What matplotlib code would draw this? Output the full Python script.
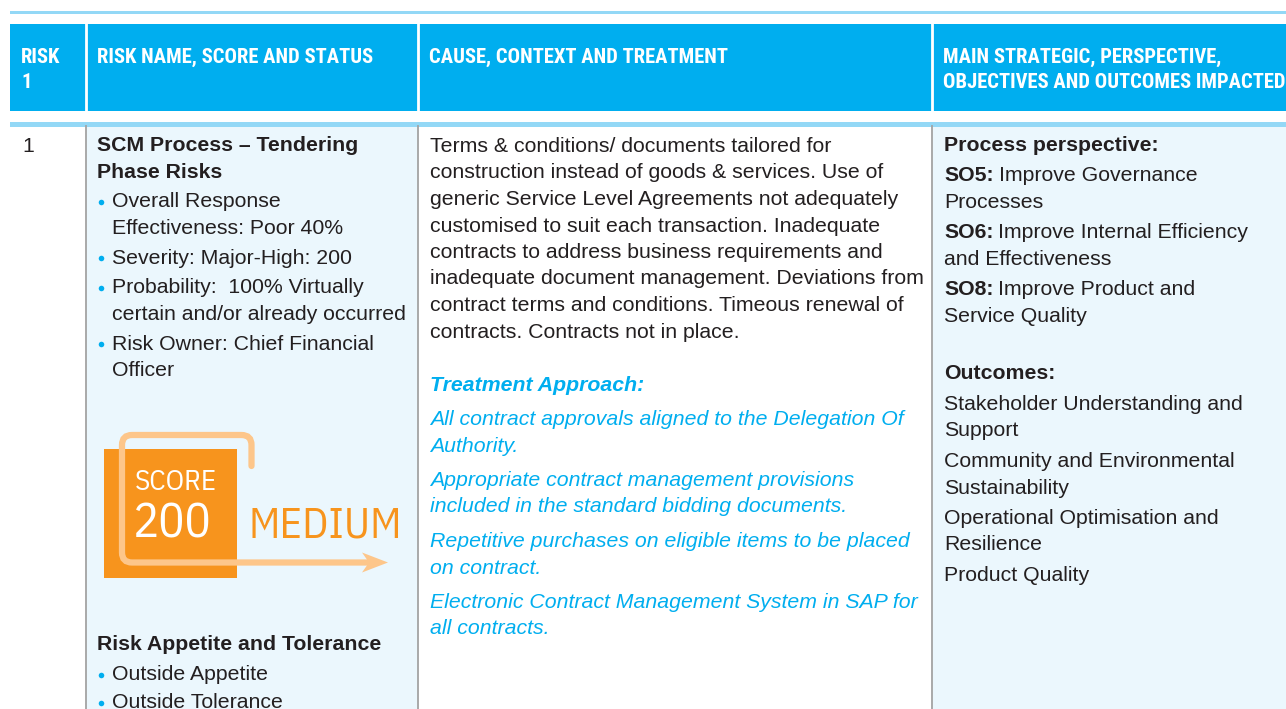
import matplotlib
matplotlib.use('Agg')
import matplotlib.pyplot as plt
from matplotlib.patches import Rectangle, Polygon, PathPatch
from matplotlib.path import Path

# colours
BLUE = '#00aeef'
LINE_BLUE = '#93d8f6'
CELL_BG = '#ebf7fd'
BORDER = '#a3a3a3'
INK = '#231f20'
ORANGE = '#f7941d'
ORANGE_LIGHT = '#fdc68a'

BODY = ['Liberation Sans', 'DejaVu Sans']
HEAD = ['Roboto Condensed', 'Barlow Condensed', 'DejaVu Sans']
LIGHT = ['IBM Plex Sans Condensed', 'Fira Sans Condensed', 'DejaVu Sans']

# ---- table content ----
header_lines = [["RISK", "1"], ["RISK NAME, SCORE AND STATUS"],
                ["CAUSE, CONTEXT AND TREATMENT"],
                ["MAIN STRATEGIC, PERSPECTIVE,", "OBJECTIVES AND OUTCOMES IMPACTED"]]
col_edges = [10, 86, 418, 932, 1286]

risk_number = "1"
risk_title = ["SCM Process \u2013 Tendering", "Phase Risks"]
risk_bullets = [["Overall Response", "Effectiveness: Poor 40%"],
                ["Severity: Major-High: 200"],
                ["Probability:  100% Virtually", "certain and/or already occurred"],
                ["Risk Owner: Chief Financial", "Officer"]]
score_label = "SCORE"
score_value = 200
score_rating = "MEDIUM"
appetite_title = "Risk Appetite and Tolerance"
appetite_bullets = ["Outside Appetite", "Outside Tolerance"]

cause_lines = ["Terms & conditions/ documents tailored for",
               "construction instead of goods & services. Use of",
               "generic Service Level Agreements not adequately",
               "customised to suit each transaction. Inadequate",
               "contracts to address business requirements and",
               "inadequate document management. Deviations from",
               "contract terms and conditions. Timeous renewal of",
               "contracts. Contracts not in place."]
treatment_title = "Treatment Approach:"
treatment_items = [["All contract approvals aligned to the Delegation Of", "Authority."],
                   ["Appropriate contract management provisions",
                    "included in the standard bidding documents."],
                   ["Repetitive purchases on eligible items to be placed", "on contract."],
                   ["Electronic Contract Management System in SAP for", "all contracts."]]

perspective_title = "Process perspective:"
objective_codes = ["SO5:", "SO6:", "SO8:"]
objective_texts = [["Improve Governance", "Processes"],
                   ["Improve Internal Efficiency", "and Effectiveness"],
                   ["Improve Product and", "Service Quality"]]
outcomes_title = "Outcomes:"
outcomes = [["Stakeholder Understanding and", "Support"],
            ["Community and Environmental", "Sustainability"],
            ["Operational Optimisation and", "Resilience"],
            ["Product Quality"]]

# ---- figure in pixel coordinates ----
W, H = 1286, 709
fig = plt.figure(figsize=(W / 100, H / 100), dpi=100)
ax = fig.add_axes([0, 0, 1, 1])
ax.set_xlim(0, W)
ax.set_ylim(H, 0)
ax.axis('off')

FS = 15.3  # body text size

# background cells
ax.add_patch(Rectangle((col_edges[1], 126), col_edges[2] - col_edges[1], H - 126, color=CELL_BG, lw=0))
ax.add_patch(Rectangle((col_edges[3], 126), col_edges[4] - col_edges[3], H - 126, color=CELL_BG, lw=0))
for x in col_edges[1:4]:
    ax.plot([x, x], [126, H], color=BORDER, lw=1.3)

# rules and header band
ax.add_patch(Rectangle((10, 10.5), W - 10, 3.5, color=LINE_BLUE, lw=0))
ax.add_patch(Rectangle((10, 122), W - 10, 4.5, color=LINE_BLUE, lw=0))
ax.add_patch(Rectangle((10, 24), W - 10, 87, color=BLUE, lw=0))
for x in col_edges[1:4]:
    ax.plot([x, x], [24, 111], color='white', lw=2)

for x0, lines in zip(col_edges[:4], header_lines):
    for i, line in enumerate(lines):
        ax.text(x0 + 11, 63 + 25 * i, line, color='white', fontsize=14.9,
                fontweight='bold', family=HEAD, va='baseline', ha='left')


def put(x, y, s, **kw):
    opts = dict(fontsize=FS, color=INK, family=BODY, va='baseline', ha='left')
    opts.update(kw)
    return ax.text(x, y, s, **opts)


def bullet(x, y):
    ax.plot(x, y - 5.5, 'o', color=BLUE, ms=4, mec='none')


# column 1
put(22, 152, risk_number)

# column 2: risk name and status
x2 = 97
y = 151
for line in risk_title:
    put(x2, y, line, fontweight='bold')
    y += 27
y = 207
for item in risk_bullets:
    bullet(x2 + 4, y)
    for line in item:
        put(x2 + 15, y, line)
        y += 27
    y += 2.5

put(x2, 650, appetite_title, fontweight='bold')
y = 680
for line in appetite_bullets:
    bullet(x2 + 4, y)
    put(x2 + 15, y, line)
    y += 28.5

# score badge
ax.add_patch(Rectangle((104, 449), 133, 129, color=ORANGE, lw=0, zorder=3))
verts = [(251.5, 466), (251.5, 445), (251.5, 435), (241.5, 435), (132, 435),
         (122, 435), (122, 445), (122, 552.5), (122, 562.5), (132, 562.5), (372, 562.5)]
codes = [Path.MOVETO, Path.LINETO, Path.CURVE3, Path.CURVE3, Path.LINETO,
         Path.CURVE3, Path.CURVE3, Path.LINETO, Path.CURVE3, Path.CURVE3, Path.LINETO]
ax.add_patch(PathPatch(Path(verts, codes), fill=False, ec=ORANGE_LIGHT, lw=4.5,
                       capstyle='round', zorder=4))
ax.add_patch(Polygon([(388, 562.5), (362, 552.5), (369, 562.5), (362, 572.5)],
                     closed=True, color=ORANGE_LIGHT, lw=0, zorder=4))
ax.text(135, 490, score_label, color='white', fontsize=21, family=LIGHT,
        fontweight='normal', va='baseline', ha='left', zorder=5)
ax.text(133, 538, str(score_value), color='white', fontsize=35, family=LIGHT,
        fontweight='normal', va='baseline', ha='left', zorder=5)
ax.text(248, 538, score_rating, color=ORANGE, fontsize=31, family=LIGHT,
        fontweight='normal', va='baseline', ha='left', zorder=5)

# column 3: cause and treatment
x3 = 430
y = 152
for line in cause_lines:
    put(x3, y, line)
    y += 26.5
put(x3, 391, treatment_title, color=BLUE, fontweight='bold', style='italic')
y0 = 425
for item in treatment_items:
    y = y0
    for line in item:
        put(x3, y, line, color=BLUE, style='italic')
        y += 26.5
    y0 += 61

# column 4: objectives and outcomes
x4 = 944
renderer = fig.canvas.get_renderer()
put(x4, 151, perspective_title, fontweight='bold')
y = 181
for code, lines in zip(objective_codes, objective_texts):
    t = put(x4, y, code, fontweight='bold')
    bb = t.get_window_extent(renderer)
    xe = ax.transData.inverted().transform((bb.x1, bb.y0))[0]
    put(xe + 5, y, lines[0])
    y += 27
    for line in lines[1:]:
        put(x4, y, line)
        y += 27
    y += 3

put(x4, 379, outcomes_title, fontweight='bold')
y = 410
for item in outcomes:
    for line in item:
        put(x4, y, line)
        y += 26.5
    y += 4

fig.savefig('out.png', dpi=100)
